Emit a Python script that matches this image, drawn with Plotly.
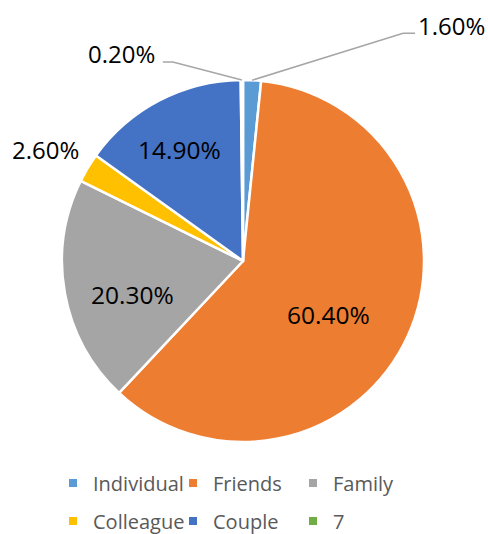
import math
import plotly.graph_objects as go

# ---- data ----
labels = ["Individual", "Friends", "Family", "Colleague", "Couple", "7"]
values = [1.6, 60.4, 20.3, 2.6, 14.9, 0.2]
colors = ["#5B9BD5", "#ED7D31", "#A5A5A5", "#FFC000", "#4472C4", "#70AD47"]

# ---- layout / style ----
W, H = 488, 534
CX, CY, R = 243, 261, 181          # pie centre & radius in pixels
FONT = "Open Sans"

# label placement style: inside -> (radius fraction, angle shift)
inside_style = {"Friends": (0.56, 7.6), "Family": (0.64, -6.7), "Couple": (0.71, -2.2)}
# outside labels: (elbow dx, dy), (end dx, dy), text anchor, text offset
outside_style = {
    "Individual": ((151, -47), (163, -47), "left", (1, -8)),
    "7": ((-69, -18), (-79, -18), "right", (-6, -9)),
    "Colleague": (None, (-42, -17), "center", (0, -1)),
}

total = sum(values)


def px_point(theta_deg, rad):
    t = math.radians(theta_deg)
    return CX + rad * math.sin(t), CY - rad * math.cos(t)


def to_paper(px, py):
    return px / W, 1 - py / H


fig = go.Figure()
fig.add_trace(go.Pie(
    labels=labels, values=values, sort=False, direction="clockwise", rotation=0,
    marker=dict(colors=colors, line=dict(color="white", width=2.5)),
    textinfo="none", showlegend=False, hoverinfo="label+percent",
    domain=dict(x=[(CX - R) / W, (CX + R) / W], y=[1 - (CY + R) / H, 1 - (CY - R) / H]),
))

annotations = []
shapes = []
cum = 0.0
for lab, val in zip(labels, values):
    mid = (cum + val / 2) / total * 360
    cum += val
    txt = f"{val:.2f}%"
    if lab in inside_style:
        f, dth = inside_style[lab]
        x, y = to_paper(*px_point(mid + dth, f * R))
        annotations.append(dict(x=x, y=y, xref="paper", yref="paper", text=txt,
                                showarrow=False, xanchor="center", yanchor="middle",
                                font=dict(family=FONT, size=24.5, color="black")))
    else:
        elbow, end, anchor, toff = outside_style[lab]
        ex, ey = px_point(mid, R)
        pts = [(ex, ey)]
        if elbow is not None:
            pts.append((ex + elbow[0], ey + elbow[1]))
            pts.append((ex + end[0], ey + end[1]))
            path = "M " + " L ".join(f"{to_paper(a, b)[0]},{to_paper(a, b)[1]}" for a, b in pts)
            shapes.append(dict(type="path", path=path, xref="paper", yref="paper",
                               line=dict(color="#A6A6A6", width=1.5)))
        tx, ty = ex + end[0] + toff[0], ey + end[1] + toff[1]
        x, y = to_paper(tx, ty)
        annotations.append(dict(x=x, y=y, xref="paper", yref="paper", text=txt,
                                showarrow=False, xanchor=anchor, yanchor="middle",
                                font=dict(family=FONT, size=24, color="black")))

# legend entries
for i, (lab, col) in enumerate(zip(labels, colors)):
    fig.add_trace(go.Scatter(
        x=[None], y=[None], mode="markers", name=lab,
        marker=dict(symbol="square", size=8, color=col),
        legend="legend" if i < 3 else "legend2", hoverinfo="skip",
    ))

leg_common = dict(orientation="h", xanchor="left", yanchor="middle",
                  font=dict(family=FONT, size=20, color="#595959"),
                  bgcolor="rgba(0,0,0,0)", entrywidth=75, entrywidthmode="pixels",
                  x=53 / W)

fig.update_layout(
    width=W, height=H,
    margin=dict(l=0, r=0, t=0, b=0, autoexpand=False),
    paper_bgcolor="white", plot_bgcolor="white",
    xaxis=dict(visible=False), yaxis=dict(visible=False),
    annotations=annotations, shapes=shapes,
    legend=dict(**leg_common, y=1 - 483 / H),
    legend2=dict(**leg_common, y=1 - 521 / H),
)

fig.write_html("out.html", config={"displayModeBar": False},
               post_script="document.body.style.margin='0';document.body.style.overflow='hidden';")
